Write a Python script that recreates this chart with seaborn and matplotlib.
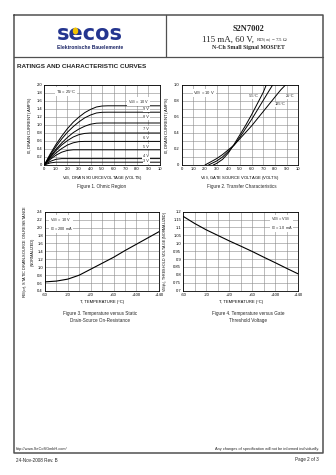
import matplotlib
matplotlib.use("Agg")
import matplotlib.pyplot as plt
from matplotlib.lines import Line2D
from matplotlib.patches import Circle
import numpy as np
import pandas as pd
import seaborn as sns

sns.set_theme(style="white")
plt.rcParams['font.family'] = ['Liberation Sans', 'DejaVu Sans']
plt.rcParams['mathtext.default'] = 'regular'

# ---- Figure 1: Ohmic region, I_D vs V_DS for several V_GS ----
vds = [0, 0.5, 1, 1.5, 2, 2.5, 3, 3.5, 4, 4.5, 5, 5.5, 10]
id_vgs10 = [0, 0.27, 0.51, 0.72, 0.91, 1.07, 1.20, 1.31, 1.39, 1.45, 1.475, 1.48, 1.48]
id_vgs9 = [0, 0.24, 0.46, 0.65, 0.82, 0.96, 1.08, 1.18, 1.25, 1.30, 1.318, 1.32, 1.32]
id_vgs8 = [0, 0.21, 0.39, 0.55, 0.69, 0.81, 0.90, 0.97, 1.02, 1.045, 1.05, 1.05, 1.05]
id_vgs7 = [0, 0.19, 0.36, 0.50, 0.61, 0.70, 0.76, 0.79, 0.80, 0.80, 0.80, 0.80, 0.80]
id_vgs6 = [0, 0.165, 0.30, 0.41, 0.50, 0.555, 0.585, 0.59, 0.59, 0.59, 0.59, 0.59, 0.59]
id_vgs5 = [0, 0.137, 0.243, 0.32, 0.365, 0.38, 0.38, 0.38, 0.38, 0.38, 0.38, 0.38, 0.38]
id_vgs4 = [0, 0.089, 0.142, 0.16, 0.16, 0.16, 0.16, 0.16, 0.16, 0.16, 0.16, 0.16, 0.16]
id_vgs3 = [0, 0.052, 0.07, 0.07, 0.07, 0.07, 0.07, 0.07, 0.07, 0.07, 0.07, 0.07, 0.07]
vgs_curves = [("10 V", id_vgs10), ("9 V", id_vgs9), ("8 V", id_vgs8), ("7 V", id_vgs7),
              ("6 V", id_vgs6), ("5 V", id_vgs5), ("4 V", id_vgs4), ("3 V", id_vgs3)]

# ---- Figure 2: transfer characteristics, I_D vs V_GS ----
vgs_m55 = [2.7, 3.0, 3.5, 4.0, 4.5, 5.0, 5.5, 6.0, 6.5, 7.0, 7.25]
id_m55 = [0, 0.02, 0.07, 0.15, 0.26, 0.38, 0.50, 0.63, 0.77, 0.91, 1.0]
vgs_25 = [2.3, 3.0, 3.5, 4.0, 4.5, 5.0, 5.5, 6.0, 6.5, 7.0, 7.5, 7.8]
id_25 = [0, 0.05, 0.10, 0.17, 0.25, 0.35, 0.46, 0.57, 0.69, 0.81, 0.93, 1.0]
vgs_125 = [2.0, 2.5, 3.0, 3.5, 4.0, 4.5, 5.0, 5.5, 6.0, 6.5, 7.0, 7.5, 8.0, 8.5, 8.9]
id_125 = [0, 0.04, 0.08, 0.13, 0.19, 0.25, 0.33, 0.41, 0.49, 0.58, 0.67, 0.76, 0.85, 0.94, 1.0]

# ---- Figure 3: normalized R_DS(on) vs temperature ----
temp = [-60, -40, -20, 0, 20, 40, 60, 80, 100, 120, 140]
rds_norm = [0.63, 0.65, 0.70, 0.80, 0.95, 1.10, 1.25, 1.42, 1.58, 1.74, 1.90]

# ---- Figure 4: normalized V_GS(th) vs temperature ----
vth_norm = [1.17, 1.125, 1.085, 1.05, 1.015, 0.982, 0.948, 0.912, 0.877, 0.841, 0.806]

temp_ticks = [-60, -20, 20, 60, 100, 140]
temp_labels = ["-60", "-20", "+20", "+60", "+100", "+140"]
volt_ticks = list(range(0, 11))
volt_labels = ["0", "1.0", "2.0", "3.0", "4.0", "5.0", "6.0", "7.0", "8.0", "9.0", "10"]

W, H = 336, 475
fig = plt.figure(figsize=(W / 100, H / 100), dpi=100)


def fx(x):
    return x / W


def fy(y):
    return 1 - y / H


def ptext(x, y, s, **kw):
    fig.text(fx(x), fy(y), s, **kw)


def pline(xs, ys, **kw):
    fig.add_artist(Line2D([fx(v) for v in xs], [fy(v) for v in ys], **kw))


def make_axes(x0, y0, x1, y1):
    ax = fig.add_axes([fx(x0), fy(y1), (x1 - x0) / W, (y1 - y0) / H])
    ax.set_facecolor("white")
    for sp in ax.spines.values():
        sp.set_color("black")
        sp.set_linewidth(0.6)
    ax.tick_params(length=0, pad=1.5, labelsize=3, colors="black")
    return ax


def style_grid(ax, xgrid, ygrid):
    for v in xgrid:
        ax.axvline(v, color="#8a8a8a", lw=0.4, zorder=0)
    for v in ygrid:
        ax.axhline(v, color="#8a8a8a", lw=0.4, zorder=0)


lab_kw = dict(fontsize=3, color="black")
note_bbox = dict(fc="white", ec="none", pad=0.4)

# ---------------- page frame ----------------
border_kw = dict(color="#505050", lw=1.1)
pline([13.5, 322.5, 322.5, 13.5, 13.5], [15, 15, 453, 453, 15], **border_kw)
pline([13.5, 322.5], [57, 57], color="#505050", lw=0.9)
pline([165.5, 165.5], [15, 57], color="#505050", lw=0.9)

# logo
ptext(90, 34, "secos", fontsize=15, fontweight="bold", color="#24358f",
      ha="center", va="center", family="DejaVu Sans")
fig.add_artist(Circle((fx(75.5), fy(31.0)), 2.0 / W, color="#f2c200", zorder=5,
                      transform=fig.transFigure))
ptext(90, 47.5, "Elektronische Bauelemente", fontsize=3.6, fontweight="bold",
      color="#1a2466", ha="center", va="center")

# part header
ptext(248, 29, "S2N7002", fontsize=6, fontweight="bold", family="Liberation Serif",
      ha="center", va="center")
ptext(256, 40, "115 mA, 60 V, ", fontsize=6.5, family="Liberation Serif",
      ha="right", va="center")
ptext(256.5, 40.6, "$R_{DS(on)}$ = 7.5 Ω", fontsize=3.6, family="Liberation Serif",
      ha="left", va="center")
ptext(248, 48, "N-Ch Small Signal MOSFET", fontsize=4.2, fontweight="bold",
      family="Liberation Serif", ha="center", va="center")

ptext(17, 66.5, "RATINGS AND CHARACTERISTIC CURVES", fontsize=4.6, fontweight="bold",
      ha="left", va="center")

# footer
ptext(16, 451, "http://www.SeCoSGmbH.com/", fontsize=2.8, ha="left", va="bottom")
ptext(319, 451, "Any changes of specification will not be informed individually.",
      fontsize=2.8, ha="right", va="bottom")
ptext(16, 460, "24-Nov-2008 Rev. B", fontsize=3.3, ha="left", va="center")
ptext(319, 460, "Page 2 of 3", fontsize=3.3, ha="right", va="center")

# ---------------- Figure 1 ----------------
ax1 = make_axes(44.3, 85, 160, 165)
style_grid(ax1, range(0, 11), np.arange(0, 2.01, 0.2))
for name, vals in vgs_curves:
    df = pd.DataFrame({"vds": vds, "id": vals})
    sns.lineplot(data=df, x="vds", y="id", ax=ax1, color="black", lw=0.7,
                 estimator=None, sort=False)
ax1.set_xlim(0, 10)
ax1.set_ylim(0, 2.0)
ax1.set_xticks(volt_ticks)
ax1.set_xticklabels(volt_labels)
ax1.set_yticks(np.round(np.arange(0, 2.01, 0.2), 1))
ax1.set_yticklabels(["0"] + [f"{v:.1f}" for v in np.arange(0.2, 2.01, 0.2)])
ax1.set_xlabel("$V_{DS}$, DRAIN SOURCE VOLTAGE (VOLTS)", labelpad=2, **lab_kw)
ax1.set_ylabel("$I_D$, DRAIN CURRENT (AMPS)", labelpad=2, **lab_kw)
ax1.text(1.0, 1.83, "$T_A$ = 25°C", fontsize=3, ha="left", va="center", bbox=note_bbox)
label_y = {"10 V": 1.58, "9 V": 1.39, "8 V": 1.20, "7 V": 0.91, "6 V": 0.68,
           "5 V": 0.46, "4 V": 0.22, "3 V": 0.10}
for name, _ in vgs_curves:
    txt = "$V_{GS}$ = 10 V" if name == "10 V" else name
    ax1.text(9.05, label_y[name], txt, fontsize=2.8, ha="right", va="center", bbox=note_bbox)
ptext(102, 186.5, "Figure 1. Ohmic Region", fontsize=3.3, ha="center", va="center")

# ---------------- Figure 2 ----------------
ax2 = make_axes(181.7, 85, 298.3, 165)
style_grid(ax2, range(0, 11), np.arange(0, 1.01, 0.1))
for vx, vy in [(vgs_m55, id_m55), (vgs_25, id_25), (vgs_125, id_125)]:
    df = pd.DataFrame({"vgs": vx, "id": vy})
    sns.lineplot(data=df, x="vgs", y="id", ax=ax2, color="black", lw=0.7,
                 estimator=None, sort=False)
ax2.set_xlim(0, 10)
ax2.set_ylim(0, 1.0)
ax2.set_xticks(volt_ticks)
ax2.set_xticklabels(volt_labels)
ax2.set_yticks([0, 0.2, 0.4, 0.6, 0.8, 1.0])
ax2.set_yticklabels(["0", "0.2", "0.4", "0.6", "0.8", "1.0"])
ax2.set_xlabel("$V_{GS}$, GATE SOURCE VOLTAGE (VOLTS)", labelpad=2, **lab_kw)
ax2.set_ylabel("$I_D$, DRAIN CURRENT (AMPS)", labelpad=2, **lab_kw)
ax2.text(1.0, 0.9, "$V_{DS}$ = 10 V", fontsize=3, ha="left", va="center", bbox=note_bbox)
ax2.text(6.15, 0.86, "-55°C", fontsize=2.8, ha="center", va="center", bbox=note_bbox)
ax2.text(9.3, 0.86, "25°C", fontsize=2.8, ha="center", va="center", bbox=note_bbox)
ax2.text(8.45, 0.76, "125°C", fontsize=2.8, ha="center", va="center", bbox=note_bbox)
ptext(241.7, 186.5, "Figure 2. Transfer Characteristics", fontsize=3.3, ha="center", va="center")

# ---------------- Figure 3 ----------------
ax3 = make_axes(45, 211.7, 159.3, 291)
style_grid(ax3, range(-60, 141, 20), np.arange(0.4, 2.41, 0.2))
df3 = pd.DataFrame({"t": temp, "r": rds_norm})
sns.lineplot(data=df3, x="t", y="r", ax=ax3, color="black", lw=0.8, estimator=None)
ax3.set_xlim(-60, 140)
ax3.set_ylim(0.4, 2.4)
ax3.set_xticks(temp_ticks)
ax3.set_xticklabels(temp_labels)
ax3.set_yticks(np.round(np.arange(0.4, 2.41, 0.2), 1))
ax3.set_yticklabels([f"{v:.1f}" for v in np.arange(0.4, 2.41, 0.2)])
ax3.set_xlabel("T, TEMPERATURE (°C)", labelpad=2, **lab_kw)
ax3.set_ylabel("$R_{DS(on)}$, STATIC DRAIN-SOURCE ON-RESISTANCE\n(NORMALIZED)",
               labelpad=2, linespacing=1.1, fontsize=2.8, color="black")
ax3.text(-52, 2.08, "$V_{GS}$ = 10 V\n$I_D$ = 200 mA", fontsize=2.8, ha="left",
         va="center", linespacing=1.3, bbox=note_bbox)
ptext(100, 313.5, "Figure 3. Temperature versus Static", fontsize=3.3, ha="center", va="center")
ptext(100, 320.5, "Drain-Source On-Resistance", fontsize=3.3, ha="center", va="center")

# ---------------- Figure 4 ----------------
ax4 = make_axes(183.3, 211.7, 298.3, 290.7)
style_grid(ax4, range(-60, 141, 20), np.arange(0.7, 1.201, 0.05))
df4 = pd.DataFrame({"t": temp, "v": vth_norm})
sns.lineplot(data=df4, x="t", y="v", ax=ax4, color="black", lw=0.8, estimator=None)
ax4.set_xlim(-60, 140)
ax4.set_ylim(0.7, 1.2)
ax4.set_xticks(temp_ticks)
ax4.set_xticklabels(temp_labels)
y4 = [0.7, 0.75, 0.8, 0.85, 0.9, 0.95, 1.0, 1.05, 1.1, 1.15, 1.2]
ax4.set_yticks(y4)
ax4.set_yticklabels(["0.7", "0.75", "0.8", "0.85", "0.9", "0.95", "1.0", "1.05", "1.1", "1.15", "1.2"])
ax4.set_xlabel("T, TEMPERATURE (°C)", labelpad=2, **lab_kw)
ax4.set_ylabel("$V_{GS(th)}$, THRESHOLD VOLTAGE (NORMALIZED)", labelpad=2,
               fontsize=2.6, color="black")
ax4.text(92, 1.125, "$V_{DS}$ = $V_{GS}$\n$I_D$ = 1.0 mA", fontsize=2.8, ha="left",
         va="center", linespacing=1.3, bbox=note_bbox)
ptext(248, 313.5, "Figure 4. Temperature versus Gate", fontsize=3.3, ha="center", va="center")
ptext(248, 320.5, "Threshold Voltage", fontsize=3.3, ha="center", va="center")

for ax in (ax1, ax2, ax3, ax4):
    leg = ax.get_legend()
    if leg is not None:
        leg.remove()

fig.savefig("out.png", dpi=100, facecolor="white")
